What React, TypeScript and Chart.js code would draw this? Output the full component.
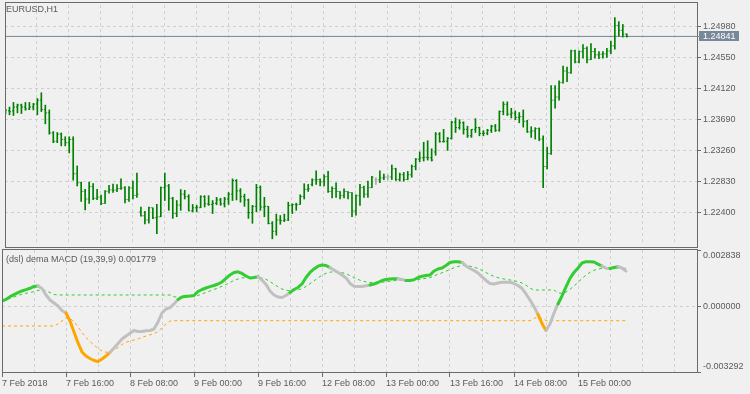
import React, { useEffect, useRef } from 'react';
import { Chart, registerables } from 'chart.js';

Chart.register(...registerables);

// ---------- texts ----------
const symbolTitle = 'EURUSD,H1';
const indicatorTitle = '(dsl) dema MACD (19,39,9) 0.001779';

// ---------- time axis (bar index -> label), one bar per hour ----------
const timeLabelBars = [0, 16, 32, 48, 64, 80, 96, 112, 128, 144];
const timeLabels = ['7 Feb 2018', '7 Feb 16:00', '8 Feb 08:00', '9 Feb 00:00', '9 Feb 16:00', '12 Feb 08:00', '13 Feb 00:00', '13 Feb 16:00', '14 Feb 08:00', '15 Feb 00:00'];
const gridBars = [0, 8, 16, 24, 32, 40, 48, 56, 64, 72, 80, 88, 96, 104, 112, 120, 128, 136, 144, 152, 160, 168];

// ---------- price axis ----------
const priceTicks = [1.224, 1.2283, 1.2326, 1.2369, 1.2412, 1.2455, 1.2498];
const lastPrice = 1.24841;

// ---------- EURUSD H1 OHLC ----------
const barOpen = [
  1.23811, 1.23811, 1.23811, 1.23864, 1.23891, 1.23864, 1.23837, 1.23864, 1.23905, 1.23959,
  1.23828, 1.23784, 1.23506, 1.23390, 1.23489, 1.23417, 1.23371, 1.23417, 1.22941, 1.22817,
  1.22699, 1.22592, 1.22763, 1.22602, 1.22619, 1.22530, 1.22699, 1.22718, 1.22718, 1.22736,
  1.22745, 1.22584, 1.22745, 1.22642, 1.22414, 1.22360, 1.22302, 1.22471, 1.22333, 1.22346,
  1.22749, 1.22772, 1.22602, 1.22391, 1.22508, 1.22659, 1.22624, 1.22427, 1.22471, 1.22471,
  1.22624, 1.22525, 1.22517, 1.22534, 1.22579, 1.22525, 1.22592, 1.22659, 1.22848, 1.22705,
  1.22624, 1.22579, 1.22404, 1.22490, 1.22749, 1.22481, 1.22490, 1.22252, 1.22145, 1.22302,
  1.22293, 1.22302, 1.22504, 1.22517, 1.22517, 1.22628, 1.22726, 1.22794, 1.22857, 1.22861,
  1.22830, 1.22901, 1.22696, 1.22736, 1.22696, 1.22638, 1.22696, 1.22682, 1.22427, 1.22638,
  1.22749, 1.22659, 1.22749, 1.22857, 1.22857, 1.22884, 1.22897, 1.22897, 1.23009, 1.22861,
  1.22928, 1.22861, 1.22928, 1.23041, 1.23143, 1.23162, 1.23170, 1.23162, 1.23243, 1.23489,
  1.23385, 1.23390, 1.23431, 1.23654, 1.23579, 1.23646, 1.23556, 1.23466, 1.23556, 1.23579,
  1.23498, 1.23502, 1.23542, 1.23600, 1.23542, 1.23801, 1.23901, 1.23766, 1.23780, 1.23721,
  1.23730, 1.23667, 1.23520, 1.23533, 1.23565, 1.23421, 1.23041, 1.23220, 1.23959, 1.24003,
  1.24201, 1.24362, 1.24339, 1.24640, 1.24487, 1.24631, 1.24675, 1.24519, 1.24631, 1.24586,
  1.24594, 1.24600, 1.24640, 1.24711, 1.24993, 1.24926, 1.24873,
];
const barHigh = [
  1.23837, 1.23864, 1.23928, 1.23905, 1.23905, 1.23928, 1.23928, 1.23915, 1.23982, 1.24062,
  1.23891, 1.23824, 1.23525, 1.23512, 1.23506, 1.23453, 1.23453, 1.23453, 1.23049, 1.22826,
  1.22726, 1.22826, 1.22807, 1.22726, 1.22646, 1.22709, 1.22780, 1.22799, 1.22790, 1.22870,
  1.22763, 1.22763, 1.22839, 1.22951, 1.22481, 1.22423, 1.22481, 1.22471, 1.22517, 1.22759,
  1.22951, 1.22794, 1.22615, 1.22571, 1.22723, 1.22713, 1.22651, 1.22517, 1.22504, 1.22638,
  1.22638, 1.22638, 1.22571, 1.22615, 1.22602, 1.22615, 1.22682, 1.22870, 1.22861, 1.22736,
  1.22659, 1.22592, 1.22504, 1.22794, 1.22772, 1.22615, 1.22490, 1.22279, 1.22383, 1.22364,
  1.22383, 1.22548, 1.22525, 1.22534, 1.22651, 1.22803, 1.22794, 1.22870, 1.22982, 1.22870,
  1.22928, 1.22974, 1.22759, 1.22817, 1.22696, 1.22732, 1.22696, 1.22682, 1.22651, 1.22794,
  1.22772, 1.22839, 1.22907, 1.22884, 1.22982, 1.22938, 1.22928, 1.23063, 1.23018, 1.22951,
  1.22960, 1.22974, 1.23063, 1.23153, 1.23243, 1.23377, 1.23398, 1.23287, 1.23512, 1.23512,
  1.23556, 1.23444, 1.23667, 1.23713, 1.23690, 1.23660, 1.23600, 1.23556, 1.23703, 1.23586,
  1.23538, 1.23556, 1.23613, 1.23623, 1.23811, 1.23936, 1.23936, 1.23847, 1.23811, 1.23788,
  1.23824, 1.23680, 1.23592, 1.23579, 1.23575, 1.23466, 1.23310, 1.24160, 1.24160, 1.24228,
  1.24429, 1.24416, 1.24653, 1.24653, 1.24640, 1.24729, 1.24698, 1.24742, 1.24675, 1.24631,
  1.24631, 1.24675, 1.24778, 1.25101, 1.25047, 1.25007, 1.24877,
];
const barLow = [
  1.23770, 1.23757, 1.23747, 1.23784, 1.23774, 1.23820, 1.23828, 1.23824, 1.23757, 1.23801,
  1.23632, 1.23489, 1.23371, 1.23371, 1.23327, 1.23327, 1.23229, 1.22853, 1.22772, 1.22557,
  1.22441, 1.22530, 1.22584, 1.22584, 1.22512, 1.22530, 1.22673, 1.22682, 1.22692, 1.22726,
  1.22538, 1.22557, 1.22592, 1.22615, 1.22356, 1.22248, 1.22256, 1.22320, 1.22114, 1.22346,
  1.22571, 1.22436, 1.22324, 1.22346, 1.22436, 1.22592, 1.22427, 1.22414, 1.22414, 1.22471,
  1.22481, 1.22504, 1.22391, 1.22512, 1.22504, 1.22481, 1.22517, 1.22571, 1.22579, 1.22548,
  1.22490, 1.22324, 1.22256, 1.22414, 1.22436, 1.22346, 1.22248, 1.22041, 1.22091, 1.22243,
  1.22279, 1.22293, 1.22391, 1.22436, 1.22517, 1.22592, 1.22696, 1.22772, 1.22794, 1.22772,
  1.22772, 1.22682, 1.22606, 1.22615, 1.22592, 1.22606, 1.22592, 1.22346, 1.22369, 1.22504,
  1.22615, 1.22615, 1.22749, 1.22794, 1.22817, 1.22861, 1.22857, 1.22861, 1.22848, 1.22839,
  1.22839, 1.22861, 1.22893, 1.22995, 1.23108, 1.23117, 1.23130, 1.23117, 1.23197, 1.23377,
  1.23377, 1.23264, 1.23421, 1.23512, 1.23556, 1.23489, 1.23444, 1.23444, 1.23512, 1.23466,
  1.23466, 1.23480, 1.23512, 1.23525, 1.23529, 1.23757, 1.23747, 1.23713, 1.23690, 1.23646,
  1.23586, 1.23512, 1.23444, 1.23421, 1.23398, 1.22749, 1.23009, 1.23210, 1.23847, 1.23959,
  1.24195, 1.24214, 1.24330, 1.24473, 1.24473, 1.24541, 1.24473, 1.24519, 1.24541, 1.24533,
  1.24541, 1.24550, 1.24604, 1.24664, 1.24846, 1.24832, 1.24832,
];
const barClose = [
  1.23820, 1.23800, 1.23864, 1.23891, 1.23864, 1.23837, 1.23864, 1.23905, 1.23959, 1.23828,
  1.23784, 1.23506, 1.23390, 1.23489, 1.23417, 1.23371, 1.23417, 1.22941, 1.22817, 1.22699,
  1.22592, 1.22763, 1.22602, 1.22619, 1.22530, 1.22699, 1.22718, 1.22712, 1.22736, 1.22745,
  1.22584, 1.22745, 1.22642, 1.22659, 1.22360, 1.22302, 1.22471, 1.22333, 1.22346, 1.22749,
  1.22772, 1.22602, 1.22391, 1.22508, 1.22659, 1.22624, 1.22427, 1.22471, 1.22478, 1.22624,
  1.22525, 1.22517, 1.22534, 1.22579, 1.22525, 1.22592, 1.22659, 1.22848, 1.22705, 1.22624,
  1.22579, 1.22404, 1.22490, 1.22749, 1.22481, 1.22490, 1.22252, 1.22145, 1.22302, 1.22293,
  1.22302, 1.22504, 1.22517, 1.22510, 1.22628, 1.22726, 1.22733, 1.22857, 1.22861, 1.22830,
  1.22901, 1.22696, 1.22736, 1.22696, 1.22638, 1.22696, 1.22682, 1.22427, 1.22638, 1.22749,
  1.22659, 1.22749, 1.22893, 1.22857, 1.22884, 1.22893, 1.22897, 1.23009, 1.22861, 1.22928,
  1.22861, 1.22928, 1.23041, 1.23143, 1.23162, 1.23170, 1.23162, 1.23130, 1.23489, 1.23385,
  1.23390, 1.23431, 1.23654, 1.23579, 1.23646, 1.23556, 1.23466, 1.23556, 1.23579, 1.23498,
  1.23502, 1.23542, 1.23600, 1.23542, 1.23801, 1.23901, 1.23766, 1.23780, 1.23721, 1.23730,
  1.23667, 1.23520, 1.23533, 1.23565, 1.23421, 1.23041, 1.23220, 1.23959, 1.24003, 1.24201,
  1.24362, 1.24339, 1.24640, 1.24487, 1.24631, 1.24675, 1.24519, 1.24631, 1.24586, 1.24594,
  1.24600, 1.24640, 1.24711, 1.24993, 1.24926, 1.24873, 1.24841,
];

// ---------- dema MACD (dsl) ----------
const macdTicks = [-0.003292, 0, 0.002838];
const macdValues = [
  0.000266, 0.000352, 0.000492, 0.000593, 0.000693, 0.000779, 0.000844, 0.000915, 0.001005, 0.001030,
  0.000905, 0.000578, 0.000327, 0.000176, 0.000025, -0.000201, -0.000327, -0.000729, -0.001281, -0.001834,
  -0.002286, -0.002487, -0.002613, -0.002714, -0.002764, -0.002638, -0.002487, -0.002301, -0.002085, -0.001859,
  -0.001633, -0.001482, -0.001347, -0.001206, -0.001256, -0.001256, -0.001221, -0.001206, -0.001131, -0.000779,
  -0.000327, -0.000126, -0.000060, 0.000126, 0.000352, 0.000477, 0.000518, 0.000528, 0.000553, 0.000754,
  0.000854, 0.000930, 0.000995, 0.001055, 0.001131, 0.001231, 0.001407, 0.001583, 0.001709, 0.001744,
  0.001658, 0.001533, 0.001432, 0.001457, 0.001497, 0.001332, 0.001106, 0.000779, 0.000578, 0.000477,
  0.000452, 0.000553, 0.000704, 0.000854, 0.000955, 0.001131, 0.001457, 0.001709, 0.001884, 0.002025,
  0.002085, 0.002060, 0.001950, 0.001834, 0.001709, 0.001583, 0.001432, 0.001156, 0.001020, 0.001005,
  0.001005, 0.001040, 0.001080, 0.001131, 0.001206, 0.001307, 0.001357, 0.001382, 0.001392, 0.001392,
  0.001357, 0.001307, 0.001307, 0.001342, 0.001457, 0.001518, 0.001553, 0.001583, 0.001784, 0.001884,
  0.001935, 0.002060, 0.002211, 0.002251, 0.002251, 0.002211, 0.002035, 0.001910, 0.001809, 0.001683,
  0.001482, 0.001307, 0.001156, 0.001131, 0.001181, 0.001216, 0.001216, 0.001216, 0.001156, 0.001055,
  0.000905, 0.000628, 0.000327, -0.000010, -0.000402, -0.000854, -0.001206, -0.000879, -0.000327, 0.000126,
  0.000528, 0.000980, 0.001417, 0.001709, 0.001935, 0.002186, 0.002251, 0.002251, 0.002236, 0.002126,
  0.002025, 0.001925, 0.001910, 0.001955, 0.002000, 0.001935, 0.001779,
];
const upperLevel = [
  0.000327, 0.000352, 0.000412, 0.000477, 0.000553, 0.000613, 0.000663, 0.000704, 0.000744, 0.000804,
  0.000839, 0.000789, 0.000698, 0.000603, 0.000578, 0.000578, 0.000578, 0.000578, 0.000578, 0.000578,
  0.000578, 0.000578, 0.000578, 0.000578, 0.000578, 0.000578, 0.000578, 0.000578, 0.000578, 0.000578,
  0.000578, 0.000578, 0.000578, 0.000578, 0.000578, 0.000578, 0.000578, 0.000578, 0.000578, 0.000578,
  0.000578, 0.000578, 0.000578, 0.000487, 0.000462, 0.000467, 0.000477, 0.000487, 0.000503, 0.000553,
  0.000638, 0.000704, 0.000779, 0.000854, 0.000930, 0.001015, 0.001106, 0.001206, 0.001307, 0.001382,
  0.001432, 0.001452, 0.001452, 0.001452, 0.001457, 0.001432, 0.001367, 0.001251, 0.001116, 0.000990,
  0.000879, 0.000814, 0.000794, 0.000804, 0.000834, 0.000894, 0.001005, 0.001146, 0.001291, 0.001437,
  0.001568, 0.001668, 0.001724, 0.001744, 0.001734, 0.001703, 0.001648, 0.001553, 0.001447, 0.001357,
  0.001286, 0.001236, 0.001206, 0.001191, 0.001196, 0.001216, 0.001246, 0.001271, 0.001296, 0.001317,
  0.001322, 0.001317, 0.001317, 0.001322, 0.001347, 0.001382, 0.001417, 0.001452, 0.001533, 0.001618,
  0.001693, 0.001774, 0.001859, 0.001945, 0.002010, 0.002060, 0.002055, 0.002025, 0.001975, 0.001910,
  0.001809, 0.001703, 0.001598, 0.001513, 0.001447, 0.001402, 0.001362, 0.001332, 0.001296, 0.001246,
  0.001181, 0.001070, 0.000920, 0.000829, 0.000829, 0.000829, 0.000829, 0.000829, 0.000829, 0.000688,
  0.000658, 0.000724, 0.000864, 0.001030, 0.001211, 0.001407, 0.001578, 0.001714, 0.001819, 0.001879,
  0.001910, 0.001915, 0.001915, 0.001920, 0.001935, 0.001935, 0.001910,
];
const lowerLevel = [
  -0.000980, -0.000980, -0.000980, -0.000980, -0.000980, -0.000980, -0.000980, -0.000980, -0.000980, -0.000980,
  -0.000980, -0.000980, -0.000980, -0.000980, -0.000879, -0.000729, -0.000553, -0.000603, -0.000754, -0.001030,
  -0.001307, -0.001558, -0.001759, -0.001935, -0.002111, -0.002236, -0.002301, -0.002286, -0.002186, -0.002060,
  -0.001910, -0.001799, -0.001734, -0.001683, -0.001633, -0.001558, -0.001482, -0.001422, -0.001367, -0.001256,
  -0.001080, -0.000879, -0.000729, -0.000714, -0.000714, -0.000714, -0.000714, -0.000714, -0.000714, -0.000714,
  -0.000714, -0.000714, -0.000714, -0.000714, -0.000714, -0.000714, -0.000714, -0.000714, -0.000714, -0.000714,
  -0.000714, -0.000714, -0.000714, -0.000714, -0.000714, -0.000714, -0.000714, -0.000714, -0.000714, -0.000714,
  -0.000714, -0.000714, -0.000714, -0.000714, -0.000714, -0.000714, -0.000714, -0.000714, -0.000714, -0.000714,
  -0.000714, -0.000714, -0.000714, -0.000714, -0.000714, -0.000714, -0.000714, -0.000714, -0.000714, -0.000714,
  -0.000714, -0.000714, -0.000714, -0.000714, -0.000714, -0.000714, -0.000714, -0.000714, -0.000714, -0.000714,
  -0.000714, -0.000714, -0.000714, -0.000714, -0.000714, -0.000714, -0.000714, -0.000714, -0.000714, -0.000714,
  -0.000714, -0.000714, -0.000714, -0.000714, -0.000714, -0.000714, -0.000714, -0.000714, -0.000714, -0.000714,
  -0.000714, -0.000714, -0.000714, -0.000714, -0.000714, -0.000714, -0.000714, -0.000714, -0.000714, -0.000714,
  -0.000714, -0.000714, -0.000714, -0.000603, -0.000503, -0.000603, -0.000704, -0.000714, -0.000714, -0.000714,
  -0.000714, -0.000714, -0.000714, -0.000714, -0.000714, -0.000714, -0.000714, -0.000714, -0.000714, -0.000714,
  -0.000714, -0.000714, -0.000714, -0.000714, -0.000714, -0.000714, -0.000714,
];
// MACD colour state per bar: 1 = above upper level, 0 = between, -1 = below lower level
const macdState = [
  1, 1, 1, 1, 1, 1, 1, 1, 1, 1,
  0, 0, 0, 0, 0, 0, 0, -1, -1, -1,
  -1, -1, -1, -1, -1, -1, -1, -1, 0, 0,
  0, 0, 0, 0, 0, 0, 0, 0, 0, 0,
  0, 0, 0, 0, 0, 1, 1, 1, 1, 1,
  1, 1, 1, 1, 1, 1, 1, 1, 1, 1,
  1, 1, 1, 1, 1, 0, 0, 0, 0, 0,
  0, 0, 0, 1, 1, 1, 1, 1, 1, 1,
  1, 1, 1, 0, 0, 0, 0, 0, 0, 0,
  0, 0, 0, 1, 1, 1, 1, 1, 1, 1,
  0, 0, 1, 1, 1, 1, 1, 1, 1, 1,
  1, 1, 1, 1, 1, 1, 0, 0, 0, 0,
  0, 0, 0, 0, 0, 0, 0, 0, 0, 0,
  0, 0, 0, 0, 0, -1, -1, 0, 0, 0,
  1, 1, 1, 1, 1, 1, 1, 1, 1, 1,
  1, 0, 0, 1, 1, 0, 0,
];

// ---------- styling ----------
const FONT = "'Liberation Sans', Arial, sans-serif";
const TEXT = '#5a5a5a';
const FRAME = '#6a6a6a';
const GRID = '#d0d0d0';
const BG = '#f0f0f0';
const BAR_GREEN = '#008000';
const BAR_DOJI = '#a8a8a8';
const LIME = '#32cd32';
const ORANGE = '#ffa500';
const SILVER = '#c0c0c0';
const PRICE_LINE = '#778899';

const X_MIN = 0;
const X_MAX = 173.75;
const PRICE_MIN = 1.219834;
const PRICE_MAX = 1.252756;
const MACD_MIN = -0.003292;
const MACD_MAX = 0.002838;
// sub-bar offsets (in bar units, 1 bar = 4px) for the HL stroke and the open/close ticks
const STROKE_SHIFT = 0.125;
const OPEN_SHIFT = -0.125;
const CLOSE_SHIFT = 0.375;

const barColor = (i: number) => (barOpen[i] === barClose[i] ? BAR_DOJI : BAR_GREEN);
const stateColor = (s: number) => (s > 0 ? LIME : s < 0 ? ORANGE : SILVER);

function framePlugin(top: number, bottom: number) {
  return {
    id: 'frame',
    afterDraw(chart: any) {
      const { ctx, chartArea } = chart;
      ctx.save();
      ctx.strokeStyle = FRAME;
      ctx.lineWidth = 1;
      ctx.setLineDash([]);
      ctx.strokeRect(chartArea.left + 0.5, top + 0.5, chartArea.right - chartArea.left, bottom - top);
      ctx.restore();
    },
  };
}

const priceLabelPlugin = {
  id: 'priceLabel',
  afterDraw(chart: any) {
    const { ctx, chartArea } = chart;
    const y = Math.round(chart.scales.y.getPixelForValue(lastPrice));
    ctx.save();
    ctx.fillStyle = PRICE_LINE;
    ctx.fillRect(chartArea.right, y, 2, 1);
    ctx.fillRect(chartArea.right + 2, y - 5, 40, 10);
    ctx.fillStyle = '#ffffff';
    ctx.font = `9px ${FONT}`;
    ctx.textBaseline = 'middle';
    ctx.textAlign = 'left';
    ctx.fillText(lastPrice.toFixed(5), chartArea.right + 6, y + 0.5);
    ctx.restore();
  },
};

export default function App() {
  const mainRef = useRef<HTMLCanvasElement>(null);
  const macdRef = useRef<HTMLCanvasElement>(null);

  useEffect(() => {
    const font = { family: FONT, size: 9 };
    const main = new Chart(mainRef.current as HTMLCanvasElement, {
      type: 'bar',
      data: {
        datasets: [
          {
            type: 'bar',
            data: barLow.map((l, i) => ({ x: i + STROKE_SHIFT, y: [l, barHigh[i]] })),
            backgroundColor: (c: any) => barColor(c.dataIndex),
            barThickness: 1,
            borderWidth: 0,
            order: 1,
          } as any,
          {
            type: 'scatter',
            data: barOpen.map((o, i) => ({ x: i + OPEN_SHIFT, y: o })),
            pointStyle: 'line',
            pointRadius: 0.5,
            pointBorderWidth: 1,
            pointBorderColor: (c: any) => barColor(c.dataIndex),
            order: 1,
          } as any,
          {
            type: 'scatter',
            data: barClose.map((cl, i) => ({ x: i + CLOSE_SHIFT, y: cl })),
            pointStyle: 'line',
            pointRadius: 0.5,
            pointBorderWidth: 1,
            pointBorderColor: (c: any) => barColor(c.dataIndex),
            order: 1,
          } as any,
          {
            type: 'line',
            data: [
              { x: X_MIN - 1, y: lastPrice },
              { x: X_MAX + 1, y: lastPrice },
            ],
            borderColor: PRICE_LINE,
            borderWidth: 1,
            pointRadius: 0,
            order: 5,
          } as any,
        ],
      },
      options: {
        responsive: false,
        animation: false,
        devicePixelRatio: 1,
        events: [],
        layout: { padding: { left: 2, top: 2, right: 0, bottom: 1 } },
        plugins: { legend: { display: false }, tooltip: { enabled: false } },
        scales: {
          x: {
            type: 'linear',
            min: X_MIN,
            max: X_MAX,
            offset: false,
            afterBuildTicks: (s: any) => {
              s.ticks = gridBars.map((v) => ({ value: v }));
            },
            afterFit: (s: any) => {
              s.height = 0;
              s.paddingLeft = 0;
              s.paddingRight = 0;
            },
            ticks: { display: false },
            grid: { color: GRID, drawTicks: false, offset: false },
            border: { display: false, dash: [3, 3] },
          },
          y: {
            type: 'linear',
            position: 'right',
            min: PRICE_MIN,
            max: PRICE_MAX,
            afterBuildTicks: (s: any) => {
              s.ticks = priceTicks.map((v) => ({ value: v }));
            },
            afterFit: (s: any) => {
              s.width = 53;
              s.paddingTop = 0;
              s.paddingBottom = 0;
            },
            ticks: { color: TEXT, font, padding: 2, callback: (v: any) => Number(v).toFixed(5) },
            grid: { color: GRID, tickColor: FRAME, tickLength: 4, tickBorderDash: [] },
            border: { display: false, dash: [3, 3] },
          },
        },
      } as any,
      plugins: [framePlugin(2, 247), priceLabelPlugin],
    });

    const macd = new Chart(macdRef.current as HTMLCanvasElement, {
      type: 'line',
      data: {
        datasets: [
          {
            data: macdValues.map((v, i) => ({ x: i, y: v })),
            borderColor: SILVER,
            borderWidth: 3,
            borderJoinStyle: 'round',
            borderCapStyle: 'round',
            pointRadius: 0,
            segment: { borderColor: (c: any) => stateColor(macdState[c.p1DataIndex]) },
            order: 0,
          } as any,
          {
            data: upperLevel.map((v, i) => ({ x: i, y: v })),
            borderColor: LIME,
            borderWidth: 1,
            borderDash: [3, 3],
            pointRadius: 0,
            order: 1,
          } as any,
          {
            data: lowerLevel.map((v, i) => ({ x: i, y: v })),
            borderColor: ORANGE,
            borderWidth: 1,
            borderDash: [3, 3],
            pointRadius: 0,
            order: 2,
          } as any,
        ],
      },
      options: {
        responsive: false,
        animation: false,
        devicePixelRatio: 1,
        events: [],
        layout: { padding: { left: 2, top: 2, right: 0, bottom: 0 } },
        plugins: { legend: { display: false }, tooltip: { enabled: false } },
        scales: {
          x: {
            type: 'linear',
            min: X_MIN,
            max: X_MAX,
            offset: false,
            afterBuildTicks: (s: any) => {
              s.ticks = gridBars.map((v) => ({ value: v }));
            },
            afterFit: (s: any) => {
              s.height = 22;
              s.paddingLeft = 0;
              s.paddingRight = 0;
            },
            ticks: {
              autoSkip: false,
              maxRotation: 0,
              minRotation: 0,
              align: 'start',
              padding: 1,
              color: TEXT,
              font,
              callback: (v: any) => {
                const k = timeLabelBars.indexOf(Number(v));
                return k >= 0 ? timeLabels[k] : '';
              },
            },
            grid: {
              color: GRID,
              offset: false,
              tickLength: 5,
              tickBorderDash: [],
              tickColor: (c: any) => (c.tick && timeLabelBars.includes(c.tick.value) ? FRAME : 'rgba(0,0,0,0)'),
            },
            border: { display: false, dash: [3, 3] },
          },
          y: {
            type: 'linear',
            position: 'right',
            min: MACD_MIN,
            max: MACD_MAX,
            afterBuildTicks: (s: any) => {
              s.ticks = macdTicks.map((v) => ({ value: v }));
            },
            afterFit: (s: any) => {
              s.width = 53;
              s.paddingTop = 0;
              s.paddingBottom = 0;
            },
            ticks: {
              color: TEXT,
              font,
              padding: 2,
              callback: (v: any) => {
                const n = Number(v);
                const s = n.toFixed(6);
                if (n === MACD_MAX) return ['', s];
                if (n === MACD_MIN) return [s, ''];
                return s;
              },
            },
            grid: {
              color: (c: any) => (c.tick && c.tick.value === 0 ? GRID : 'rgba(0,0,0,0)'),
              tickColor: FRAME,
              tickLength: 4,
              tickBorderDash: [],
            },
            border: { display: false, dash: [3, 3] },
          },
        },
      } as any,
      plugins: [framePlugin(1, 124)],
    });

    return () => {
      main.destroy();
      macd.destroy();
    };
  }, []);

  const titleStyle: React.CSSProperties = {
    position: 'absolute',
    left: 6,
    fontFamily: FONT,
    fontSize: '9px',
    lineHeight: '9px',
    color: TEXT,
    whiteSpace: 'nowrap',
  };

  return (
    <div style={{ position: 'fixed', left: 0, top: 0, width: 750, height: 394, background: BG, overflow: 'hidden' }}>
      <canvas ref={mainRef} width={750} height={248} style={{ position: 'absolute', left: 0, top: 0 }} />
      <canvas ref={macdRef} width={750} height={146} style={{ position: 'absolute', left: 0, top: 248 }} />
      <div style={{ ...titleStyle, top: 5 }}>{symbolTitle}</div>
      <div style={{ ...titleStyle, top: 255 }}>{indicatorTitle}</div>
    </div>
  );
}
